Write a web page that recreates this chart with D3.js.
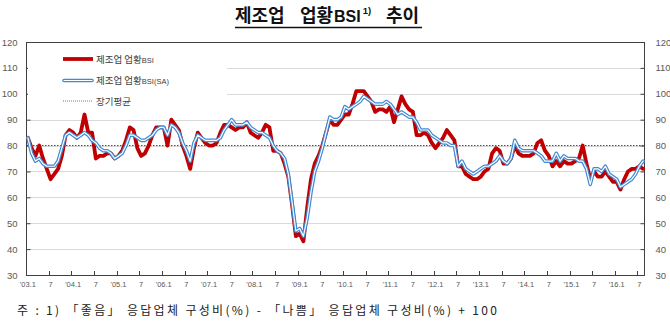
<!DOCTYPE html>
<html>
<head>
<meta charset="utf-8">
<script src="https://cdn.jsdelivr.net/npm/d3@7/dist/d3.min.js"></script>
<style>
  html, body { margin: 0; padding: 0; background: #ffffff; }
  svg { display: block; }
</style>
</head>
<body>
<svg id="chart" width="670" height="329"></svg>
<script>
// Survey period: Jan 2003 – Aug 2016, monthly
const years = [2003, 2004, 2005, 2006, 2007, 2008, 2009, 2010, 2011, 2012, 2013, 2014, 2015, 2016];
const monthsInLastYear = 8;

// Manufacturing business conditions BSI (original series)
const bsi = [
  83, 79, 76, 80, 75, 71, 67, 69, 71, 76, 84, 86,   // 2003
  85, 83, 85, 92, 85, 85, 75, 76, 76, 77, 77, 75,   // 2004
  76, 78, 82, 87, 86, 79, 76, 77, 80, 84, 87, 87,   // 2005
  87, 80, 90, 88, 86, 80, 76, 71, 79, 85, 83, 81,   // 2006
  80, 80, 81, 85, 88, 88, 87, 86, 87, 87, 89, 85,   // 2007
  84, 83, 85, 88, 87, 78, 78, 77, 73, 68, 57, 45,   // 2008
  46, 43, 56, 67, 73, 76, 80, 85, 90, 88, 88, 90,   // 2009
  92, 92, 96, 101, 101, 101, 99, 97, 93, 94, 94, 93, // 2010
  95, 89, 94, 99, 96, 94, 93, 84, 84, 85, 84, 81,   // 2011
  79, 81, 83, 86, 84, 82, 72, 72, 69, 68, 67, 67,   // 2012
  68, 70, 71, 77, 79, 78, 73, 73, 75, 80, 77, 76,   // 2013
  76, 76, 77, 81, 82, 78, 76, 72, 74, 72, 74, 73,   // 2014
  73, 74, 75, 80, 73, 67, 70, 68, 68, 70, 68, 66,   // 2015
  66, 63, 67, 70, 71, 71, 72, 71                    // 2016
];

// Seasonally adjusted series
const bsiSA = [
  83, 77, 74, 75, 73, 72, 72, 72, 74, 79, 84, 85,   // 2003
  84, 83, 84, 85, 84, 82, 81, 79, 78, 78, 77, 75,   // 2004
  76, 77, 80, 84, 84, 83, 82, 82, 83, 84, 86, 87,   // 2005
  87, 84, 88, 87, 85, 81, 78, 74, 81, 84, 83, 82,   // 2006
  82, 82, 82, 83, 86, 88, 90, 88, 88, 88, 89, 87,   // 2007
  86, 85, 85, 84, 83, 80, 78, 77, 75, 69, 58, 47,   // 2008
  48, 45, 52, 62, 70, 74, 79, 85, 91, 90, 90, 91,   // 2009
  95, 94, 95, 96, 97, 99, 98, 97, 96, 96, 96, 97,   // 2010
  96, 94, 92, 93, 92, 91, 91, 89, 86, 86, 86, 84,   // 2011
  83, 82, 81, 81, 80, 80, 72, 74, 71, 70, 69, 70,   // 2012
  71, 72, 72, 73, 74, 76, 74, 73, 75, 82, 79, 78,   // 2013
  78, 78, 78, 77, 76, 74, 74, 74, 77, 74, 76, 75,   // 2014
  75, 75, 74, 74, 71, 65, 71, 71, 70, 72, 69, 68,   // 2015
  67, 64, 65, 66, 67, 69, 72, 74                    // 2016
];

const longTermAvg = 80;

const yTicks = [30, 40, 50, 60, 70, 80, 90, 100, 110, 120];
const xTickLabels = [
  "'03.1", "7", "'04.1", "7", "'05.1", "7", "'06.1", "7", "'07.1", "7",
  "'08.1", "7", "'09.1", "7", "'10.1", "7", "'11.1", "7", "'12.1", "7",
  "'13.1", "7", "'14.1", "7", "'15.1", "7", "'16.1", "7"
];

const seriesNames = { raw: "제조업 업황", sa: "제조업 업황", avg: "장기평균" };

// Category keys "YYYY-MM"
const months = [];
years.forEach((y, yi) => {
  const n = yi === years.length - 1 ? monthsInLastYear : 12;
  for (let m = 1; m <= n; m++) months.push(y + "-" + String(m).padStart(2, "0"));
});

const svg = d3.select("#chart");
const plot = { left: 26, right: 645, top: 42, bottom: 275 };

const x = d3.scaleBand().domain(months).range([plot.left, plot.right]).padding(0);
const y = d3.scaleLinear().domain([30, 120]).range([plot.bottom, plot.top]);
const cx = m => x(m) + x.bandwidth() / 2;

const axisColor = "#404040";
const labelColor = "#595959";
const labelFont = "'Liberation Sans', Arial, sans-serif";
const krFont = "'Noto Sans CJK KR', 'Noto Sans', sans-serif";

// Title: words placed one after another, with wide gaps between words
const title = svg.append("g").attr("fill", "#111");
function titlePart(txt, xPos, yPos, size, family) {
  const t = title.append("text").attr("x", xPos).attr("y", yPos)
    .attr("font-family", family).attr("font-weight", "bold")
    .attr("font-size", size).text(txt);
  const b = t.node().getBBox();
  return b.x + b.width;
}
titlePart("제조업", 235, 22, 18, krFont);
let tx = titlePart("업황", 300, 22, 18, krFont);
tx = titlePart("BSI", tx + 0.5, 22, 16, labelFont);
titlePart("1)", tx + 2, 14, 9.5, labelFont);
titlePart("추이", 386, 22, 18, krFont);
svg.append("line")
  .attr("x1", 235).attr("x2", 422)
  .attr("y1", 27.5).attr("y2", 27.5)
  .attr("stroke", "#111").attr("stroke-width", 1.3);

// Horizontal gridlines
svg.append("g")
  .selectAll("line")
  .data(yTicks.filter(t => t > 30 && t < 120))
  .join("line")
  .attr("x1", plot.left).attr("x2", plot.right)
  .attr("y1", d => Math.round(y(d)) + 0.5).attr("y2", d => Math.round(y(d)) + 0.5)
  .attr("stroke", "#d9d9d9").attr("stroke-width", 1);

// Plot frame
svg.append("rect")
  .attr("x", plot.left + 0.5).attr("y", plot.top + 0.5)
  .attr("width", plot.right - plot.left - 1).attr("height", plot.bottom - plot.top)
  .attr("fill", "none").attr("stroke", axisColor).attr("stroke-width", 1);

// Y axes (left and right)
const yLeft = d3.axisLeft(y).tickValues(yTicks).tickSize(-4).tickPadding(9);
const yRight = d3.axisRight(y).tickValues(yTicks).tickSize(-4).tickPadding(11);
const gL = svg.append("g").attr("transform", `translate(${plot.left + 0.5},0)`).call(yLeft);
const gR = svg.append("g").attr("transform", `translate(${plot.right - 0.5},0)`).call(yRight);
[gL, gR].forEach(g => {
  g.select(".domain").remove();
  g.selectAll(".tick line").attr("stroke", axisColor);
  g.selectAll(".tick text").attr("fill", labelColor).attr("font-family", labelFont).attr("font-size", 9.5);
});

// X axis: tick marks at every 6th category boundary, labels under category centres
const tickMonths = months.filter((m, i) => i % 6 === 0);
const xAxis = d3.axisBottom(x).tickValues(tickMonths).tickSize(0).tickPadding(6)
  .tickFormat((d, i) => xTickLabels[i]);
const gX = svg.append("g").attr("transform", `translate(0,${plot.bottom + 0.5})`).call(xAxis);
gX.select(".domain").remove();
gX.selectAll(".tick text").attr("fill", labelColor).attr("font-family", labelFont).attr("font-size", 7.5);
svg.append("g")
  .selectAll("line")
  .data(tickMonths.slice(1))
  .join("line")
  .attr("x1", d => Math.round(x(d)) + 0.5).attr("x2", d => Math.round(x(d)) + 0.5)
  .attr("y1", plot.bottom).attr("y2", plot.bottom - 4)
  .attr("stroke", axisColor);

// Long-term average
svg.append("line")
  .attr("x1", plot.left + 1).attr("x2", plot.right - 1)
  .attr("y1", y(longTermAvg)).attr("y2", y(longTermAvg))
  .attr("stroke", "#333").attr("stroke-width", 0.9).attr("stroke-dasharray", "1.5,1.5");

// Series lines
const line = d3.line().x((d, i) => cx(months[i])).y(d => y(d)).curve(d3.curveLinear);

svg.append("path").datum(bsi)
  .attr("d", line).attr("fill", "none")
  .attr("stroke", "#c00000").attr("stroke-width", 3.8)
  .attr("stroke-linejoin", "round").attr("stroke-linecap", "round");

svg.append("path").datum(bsiSA)
  .attr("d", line).attr("fill", "none")
  .attr("stroke", "#4289d2").attr("stroke-width", 3.6)
  .attr("stroke-linejoin", "round").attr("stroke-linecap", "round");
svg.append("path").datum(bsiSA)
  .attr("d", line).attr("fill", "none")
  .attr("stroke", "#ffffff").attr("stroke-width", 1.2)
  .attr("stroke-linejoin", "round").attr("stroke-linecap", "round");

// Legend
const lg = svg.append("g");
lg.append("rect").attr("x", 28).attr("y", 44).attr("width", 199).attr("height", 67).attr("fill", "#ffffff");
const rows = [
  { y: 59, kind: "raw", label: seriesNames.raw, suffix: "BSI" },
  { y: 80.5, kind: "sa", label: seriesNames.sa, suffix: "BSI(SA)" },
  { y: 101, kind: "avg", label: seriesNames.avg, suffix: "" }
];
rows.forEach(r => {
  if (r.kind === "raw") {
    lg.append("line").attr("x1", 63).attr("x2", 93).attr("y1", r.y).attr("y2", r.y)
      .attr("stroke", "#c00000").attr("stroke-width", 3.8);
  } else if (r.kind === "sa") {
    lg.append("line").attr("x1", 64).attr("x2", 92).attr("y1", r.y).attr("y2", r.y)
      .attr("stroke", "#4289d2").attr("stroke-width", 3.6).attr("stroke-linecap", "round");
    lg.append("line").attr("x1", 64).attr("x2", 92).attr("y1", r.y).attr("y2", r.y)
      .attr("stroke", "#ffffff").attr("stroke-width", 1.2).attr("stroke-linecap", "round");
  } else {
    lg.append("line").attr("x1", 63).attr("x2", 93).attr("y1", r.y).attr("y2", r.y)
      .attr("stroke", "#555").attr("stroke-width", 0.8).attr("stroke-dasharray", "1,1");
  }
  const t = lg.append("text").attr("x", 96).attr("y", r.y + 3.5)
    .attr("font-family", krFont).attr("font-size", 9.5).attr("fill", "#404040");
  t.append("tspan").text(r.label);
  if (r.suffix) t.append("tspan").attr("font-family", labelFont).attr("font-size", 7.5).text(r.suffix);
});

// Footnote
svg.append("text")
  .attr("x", 17).attr("y", 315)
  .attr("font-family", krFont).attr("font-size", 12).attr("fill", "#222")
  .attr("textLength", 480).attr("lengthAdjust", "spacing")
  .text("주 : 1) 「좋음」 응답업체 구성비(%) - 「나쁨」 응답업체 구성비(%) + 100");
</script>
</body>
</html>
